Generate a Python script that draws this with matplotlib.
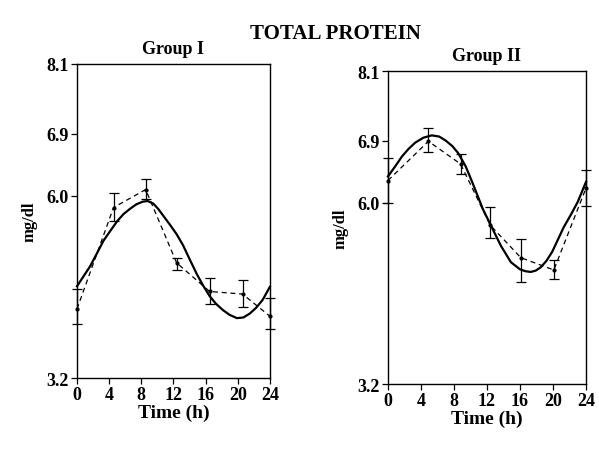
import numpy as np
import matplotlib

matplotlib.use("Agg")
import matplotlib.pyplot as plt

plt.rcParams["font.family"] = ["Liberation Serif", "DejaVu Serif"]
plt.rcParams["font.weight"] = "bold"

# tick values on the (non-uniform) printed y axis
y_ticks = [3.2, 6.0, 6.9, 8.1]
x_ticks = [0, 4, 8, 12, 16, 20, 24]

# Group I: observed means with SE limits, and fitted curve
g1_time = [0, 4.55, 8.55, 12.4, 16.5, 20.6, 24]
g1_mean = [4.26, 5.82, 6.09, 4.97, 4.53, 4.49, 4.15]
g1_low = [4.03, 5.62, 5.95, 4.86, 4.34, 4.29, 3.95]
g1_high = [4.57, 6.04, 6.24, 5.05, 4.73, 4.71, 4.43]
g1_fit_time = [0, 0.8, 1.65, 2.5, 3.3, 4.2, 5.0, 5.8, 6.6, 7.4, 8.2, 8.8,
               9.5, 10.1, 10.7, 11.6, 12.4, 13.2, 14.0, 14.9, 15.7, 16.5,
               17.3, 18.2, 19.0, 19.9, 20.7, 21.5, 22.3, 23.1, 24]
g1_fit = [4.61, 4.76, 4.92, 5.12, 5.31, 5.47, 5.61, 5.72, 5.80, 5.87, 5.91,
          5.92, 5.88, 5.80, 5.70, 5.55, 5.41, 5.24, 5.03, 4.80, 4.62, 4.46,
          4.34, 4.24, 4.17, 4.12, 4.13, 4.19, 4.28, 4.40, 4.60]

# Group II
g2_time = [0, 4.9, 8.8, 12.4, 16.1, 20.1, 24]
g2_mean = [6.32, 6.89, 6.56, 5.65, 5.15, 4.96, 6.21]
g2_low = [6.00, 6.73, 6.41, 5.45, 4.78, 4.82, 5.95]
g2_high = [6.64, 7.11, 6.70, 5.93, 5.44, 5.11, 6.47]
g2_fit_time = [0, 0.9, 1.7, 2.5, 3.3, 4.3, 5.3, 6.2, 7.0, 7.8, 8.5, 9.4,
               10.2, 11.5, 12.5, 13.7, 14.9, 16.0, 16.7, 17.3, 17.9, 18.5,
               19.2, 19.9, 21.3, 22.2, 23.0, 24]
g2_fit = [6.38, 6.53, 6.67, 6.78, 6.87, 6.95, 6.99, 6.97, 6.90, 6.82, 6.72,
          6.53, 6.30, 5.90, 5.64, 5.33, 5.08, 4.97, 4.94, 4.93, 4.95, 5.00,
          5.10, 5.24, 5.62, 5.82, 6.01, 6.30]

# where each printed tick sits along the axis height
tick_frac = [0.0, 0.58, 0.778, 1.0]


def _forward(v):
    return np.interp(v, y_ticks, tick_frac)


def _inverse(p):
    return np.interp(p, tick_frac, y_ticks)


def draw_panel(ax, title, t, mean, low, high, fit_t, fit):
    mean = np.asarray(mean)
    yerr = [mean - np.asarray(low), np.asarray(high) - mean]
    ax.plot(fit_t, fit, color="black", lw=1.6, clip_on=False, zorder=3,
            solid_joinstyle="round")
    ax.errorbar(t, mean, yerr=yerr, color="black", lw=0.9, ls=(0, (4, 3)),
                marker="o", ms=2, capsize=3.5, elinewidth=0.9, capthick=0.9,
                clip_on=False, zorder=2)
    ax.set_yscale("function", functions=(_forward, _inverse))
    ax.set_xlim(0, 24)
    ax.set_ylim(y_ticks[0], y_ticks[-1])
    ax.set_xticks(x_ticks)
    ax.set_yticks(y_ticks)
    ax.set_yticklabels([f"{v:.1f}" for v in y_ticks])
    ax.minorticks_off()
    ax.tick_params(axis="both", direction="out", length=4, width=0.9,
                   labelsize=13, pad=2)
    for lab in ax.get_xticklabels() + ax.get_yticklabels():
        lab.set_fontweight("bold")
    for sp in ax.spines.values():
        sp.set_linewidth(1.0)
    ax.set_xlabel("Time (h)", fontsize=14, fontweight="bold", labelpad=0)
    ax.set_ylabel("mg/dl", fontsize=12, fontweight="bold", labelpad=6)
    ax.set_title(title, fontsize=13, fontweight="bold", pad=8)


fig = plt.figure(figsize=(5.99, 4.52), dpi=100)
ax1 = fig.add_axes([0.1285, 0.1615, 0.322, 0.695])
ax2 = fig.add_axes([0.6477, 0.148, 0.3306, 0.6925])

draw_panel(ax1, "Group I", g1_time, g1_mean, g1_low, g1_high, g1_fit_time, g1_fit)
draw_panel(ax2, "Group II", g2_time, g2_mean, g2_low, g2_high, g2_fit_time, g2_fit)

fig.text(0.56, 0.925, "TOTAL PROTEIN", ha="center", va="center",
         fontsize=15, fontweight="bold")

fig.savefig("out.png", dpi=100)
